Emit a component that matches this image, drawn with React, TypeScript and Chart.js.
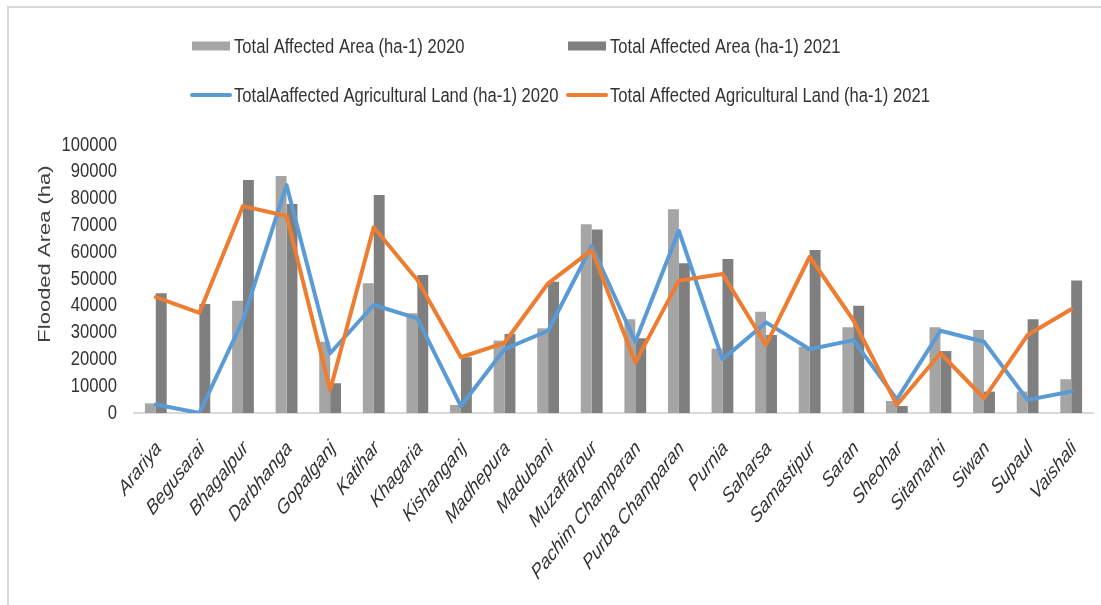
import { useEffect, useRef } from "react";
import { Chart, registerables } from "chart.js";

Chart.register(...registerables);

// Districts of Bihar
const districts = [
  "Arariya", "Begusarai", "Bhagalpur", "Darbhanga", "Gopalganj", "Katihar",
  "Khagaria", "Kishanganj", "Madhepura", "Madubani", "Muzaffarpur",
  "Pachim Champaran", "Purba Champaran", "Purnia", "Saharsa", "Samastipur",
  "Saran", "Sheohar", "Sitamarhi", "Siwan", "Supaul", "Vaishali",
];

// Total affected area (ha)
const affectedArea2020 = [
  3600, 0, 41900, 88400, 26600, 48400, 37200, 3000, 27000, 31600, 70400,
  35000, 76000, 24000, 37800, 24700, 32000, 4500, 32000, 31000, 8000, 12600,
];
const affectedArea2021 = [
  44700, 40700, 86900, 78000, 11100, 81300, 51500, 20800, 29500, 49000, 68500,
  27900, 55900, 57500, 29100, 60800, 40000, 2600, 23100, 8000, 35000, 49400,
];

// Total affected agricultural land (ha)
const agriLand2020 = [
  3200, 0, 34700, 85000, 22300, 40300, 35300, 2600, 23800, 30700, 62300,
  26600, 68000, 20000, 33800, 23800, 27200, 5100, 30700, 26600, 4900, 8000,
];
const agriLand2021 = [
  43200, 37400, 77200, 73500, 8600, 69300, 49600, 20800, 26200, 48400, 60800,
  18800, 49400, 51900, 25400, 58300, 34700, 3000, 22300, 5500, 29100, 38700,
];

const seriesLabels = [
  "Total Affected Area (ha-1) 2020",
  "Total Affected Area (ha-1) 2021",
  "TotalAaffected Agricultural Land (ha-1) 2020",
  "Total Affected Agricultural Land (ha-1) 2021",
];

const yAxisTitle = "Flooded Area (ha)";
const yMin = 0;
const yMax = 100000;
const yStep = 10000;

const COLORS = {
  light: "#A5A5A5",
  dark: "#7F7F7F",
  blue: "#5B9BD5",
  orange: "#ED7D31",
  frame: "#D9D9D9",
  text: "#333333",
};

const FONT = "'Liberation Sans', Arial, sans-serif";
// horizontal condensing applied to all chart text
const SQUEEZE = 0.83;

function squeezedText(
  ctx: CanvasRenderingContext2D,
  text: string,
  x: number,
  y: number,
  align: CanvasTextAlign,
) {
  ctx.save();
  ctx.translate(x, y);
  ctx.scale(SQUEEZE, 1);
  ctx.textAlign = align;
  ctx.fillText(text, 0, 0);
  ctx.restore();
}

// Frame, two-column legend, axis labels and rotated y-axis title
const decorations = {
  id: "decorations",
  afterDraw(chart: any) {
    const { ctx, chartArea } = chart;
    const xScale = chart.scales.x;
    const yScale = chart.scales.y;
    ctx.save();

    // outer frame (top and left edges)
    ctx.strokeStyle = COLORS.frame;
    ctx.lineWidth = 2;
    ctx.beginPath();
    ctx.moveTo(8, 605);
    ctx.lineTo(8, 7);
    ctx.lineTo(1101, 7);
    ctx.stroke();

    // legend: 2 columns x 2 rows
    const cols = [190, 566];
    const rows = [46, 95];
    ctx.font = `20px ${FONT}`;
    ctx.textBaseline = "middle";
    chart.data.datasets.forEach((ds: any, i: number) => {
      const x = cols[i % 2];
      const y = rows[Math.floor(i / 2)];
      if (ds.type === "line") {
        ctx.strokeStyle = ds.borderColor;
        ctx.lineWidth = 4;
        ctx.lineCap = "round";
        ctx.beginPath();
        ctx.moveTo(x + 2, y);
        ctx.lineTo(x + 40, y);
        ctx.stroke();
      } else {
        ctx.fillStyle = ds.backgroundColor;
        ctx.fillRect(x + 2, y - 4.5, 38, 9);
      }
      ctx.fillStyle = COLORS.text;
      squeezedText(ctx, ds.label, x + 44, y + 1, "left");
    });

    // y-axis tick labels
    ctx.fillStyle = COLORS.text;
    ctx.font = `20px ${FONT}`;
    ctx.textBaseline = "middle";
    yScale.ticks.forEach((t: any) => {
      const py = yScale.getPixelForValue(t.value);
      squeezedText(ctx, String(t.value), chartArea.left - 17, py, "right");
    });

    // x-axis category labels, slanted
    ctx.font = `italic 20px ${FONT}`;
    ctx.textBaseline = "middle";
    ctx.textAlign = "right";
    const labels: string[] = chart.data.labels;
    labels.forEach((label, i) => {
      const px = xScale.getPixelForTick(i);
      ctx.save();
      ctx.translate(px + 3, xScale.top + 32);
      ctx.scale(SQUEEZE, 1.05);
      ctx.rotate(-Math.PI / 4);
      ctx.fillText(label, 0, 0);
      ctx.restore();
    });

    // y-axis title
    const cy = (chartArea.top + chartArea.bottom) / 2 - 25;
    ctx.translate(45, cy);
    ctx.rotate(-Math.PI / 2);
    ctx.scale(1, 0.75);
    ctx.font = `22px ${FONT}`;
    ctx.fillStyle = "#404040";
    ctx.textAlign = "center";
    ctx.textBaseline = "middle";
    ctx.fillText(yAxisTitle, 0, 0);

    ctx.restore();
  },
};

export default function App() {
  const canvasRef = useRef<HTMLCanvasElement | null>(null);

  useEffect(() => {
    if (!canvasRef.current) return;
    const chart = new Chart(canvasRef.current, {
      type: "bar",
      data: {
        labels: districts,
        datasets: [
          {
            type: "bar",
            label: seriesLabels[0],
            data: affectedArea2020,
            backgroundColor: COLORS.light,
            order: 2,
          },
          {
            type: "bar",
            label: seriesLabels[1],
            data: affectedArea2021,
            backgroundColor: COLORS.dark,
            order: 2,
          },
          {
            type: "line",
            label: seriesLabels[2],
            data: agriLand2020,
            borderColor: COLORS.blue,
            backgroundColor: COLORS.blue,
            borderWidth: 4,
            pointRadius: 0,
            tension: 0,
            borderJoinStyle: "round",
            borderCapStyle: "round",
            order: 1,
          },
          {
            type: "line",
            label: seriesLabels[3],
            data: agriLand2021,
            borderColor: COLORS.orange,
            backgroundColor: COLORS.orange,
            borderWidth: 4,
            pointRadius: 0,
            tension: 0,
            borderJoinStyle: "round",
            borderCapStyle: "round",
            order: 0,
          },
        ] as any,
      },
      options: {
        responsive: false,
        animation: false,
        layout: { padding: { left: 0, top: 145, right: 8, bottom: 0 } },
        datasets: {
          bar: { categoryPercentage: 0.5, barPercentage: 1.0 },
        },
        plugins: {
          legend: { display: false },
          tooltip: { enabled: false },
          title: { display: false },
        },
        scales: {
          x: {
            grid: { display: false, drawTicks: false },
            border: { display: true, color: COLORS.frame, width: 2 },
            ticks: { display: false, autoSkip: false },
            afterFit(scale: any) {
              scale.height = 192;
            },
          },
          y: {
            min: yMin,
            max: yMax,
            grid: { display: false, drawTicks: false },
            border: { display: false },
            ticks: { display: false, stepSize: yStep, autoSkip: false },
            afterFit(scale: any) {
              scale.width = 134;
            },
          },
        },
      },
      plugins: [decorations],
    });
    return () => chart.destroy();
  }, []);

  return (
    <div style={{ position: "fixed", left: 0, top: 0, width: 1101, height: 605, background: "#fff" }}>
      <canvas ref={canvasRef} width={1101} height={605} style={{ display: "block" }} />
    </div>
  );
}
